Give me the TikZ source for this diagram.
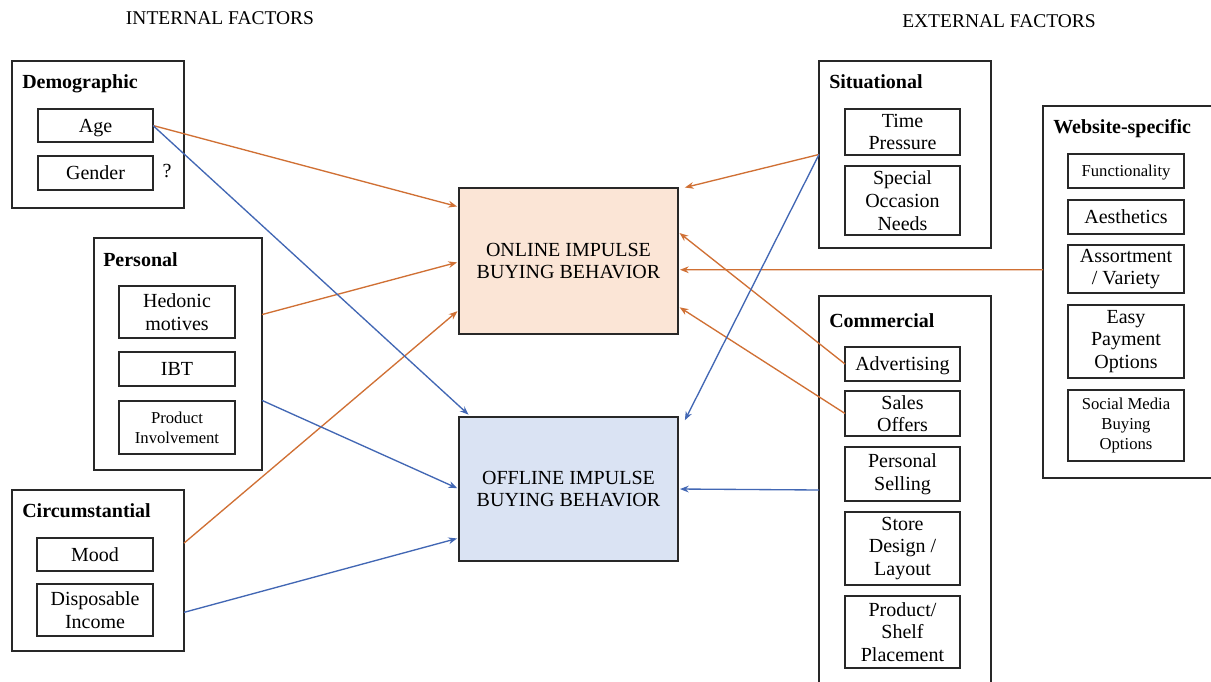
\documentclass[tikz,border=0pt]{standalone}
\usepackage{fontspec}
\setmainfont{Liberation Serif}
\usetikzlibrary{calc,arrows.meta}
\definecolor{onlineorange}{RGB}{208,112,52}
\definecolor{offlineblue}{RGB}{66,103,180}
\definecolor{onlinefill}{RGB}{251,229,214}
\definecolor{offlinefill}{RGB}{218,227,243}
\definecolor{edgegray}{RGB}{40,40,40}
\begin{document}
\begin{tikzpicture}[x=0.75pt,y=-0.75pt,
  % a rectangle given by its corners (x1,y1) and (x2,y2)
  span/.style n args={4}{at={({(#1+#3)/2},{(#2+#4)/2})},
    minimum width={(#3-#1)*0.75pt},minimum height={(#4-#2)*0.75pt}},
  boxed/.style={draw=edgegray,line width=0.9pt,inner sep=0pt,outer sep=0pt,
    rectangle,align=center,font=\fontsize{15}{17}\selectfont},
  groupbox/.style={boxed},
  item/.style={boxed},
  oneline/.style={boxed,text height=10pt,text depth=0pt},
  smallitem/.style={boxed,font=\fontsize{12.5}{15}\selectfont},
  smalloneline/.style={smallitem,text height=8.5pt,text depth=0pt},
  outcome/.style={boxed},
  grouptitle/.style={anchor=base west,inner sep=0pt,font=\fontsize{15}{17}\selectfont\bfseries},
  header/.style={inner sep=0pt,font=\fontsize{14.6}{17}\selectfont},
  link/.style={line width=1pt,-{Stealth[length=6.5pt,width=5pt]},shorten >=1.5pt},
  toonline/.style={link,draw=onlineorange},
  tooffline/.style={link,draw=offlineblue},
]
\useasboundingbox (0,0) rectangle (1211,682);
\fill[white] (0,0) rectangle (1211,682);

% column headings
\node[header] (internal) at (220,18) {INTERNAL FACTORS};
\node[header] (external) at (999,21) {EXTERNAL FACTORS};

% internal factor groups
\node[groupbox,span={12}{61}{184}{208}] (demo) {};
\node[grouptitle] (demotitle) at (22,88) {Demographic};
\node[oneline,span={38}{109}{153}{142}] (age) {Age};
\node[oneline,span={38}{156}{153}{190}] (gender) {Gender};
\node[inner sep=0pt,font=\fontsize{15}{17}\selectfont] (unsure) at (167,171) {?};

\node[groupbox,span={94}{238}{262}{470}] (personal) {};
\node[grouptitle] (personaltitle) at (103,266) {Personal};
\node[item,span={119}{286}{235}{338}] (hedonic) {Hedonic\\motives};
\node[oneline,span={119}{352}{235}{386}] (ibt) {IBT};
\node[smallitem,span={119}{401}{235}{454}] (involvement) {Product\\Involvement};

\node[groupbox,span={12}{490}{184}{651}] (circ) {};
\node[grouptitle] (circtitle) at (22,517) {Circumstantial};
\node[oneline,span={37}{538}{153}{571}] (mood) {Mood};
\node[item,span={37}{584}{153}{636}] (income) {Disposable\\Income};

% outcomes
\node[outcome,span={459}{188}{678}{334},fill=onlinefill] (online) {ONLINE IMPULSE\\BUYING BEHAVIOR};
\node[outcome,span={459}{417}{678}{561},fill=offlinefill] (offline) {OFFLINE IMPULSE\\BUYING BEHAVIOR};

% external factor groups
\node[groupbox,span={819}{61}{991}{248}] (situational) {};
\node[grouptitle] (situationaltitle) at (829,88) {Situational};
\node[item,span={845}{109}{960}{155}] (timepressure) {Time\\Pressure};
\node[item,span={845}{166}{960}{235}] (occasion) {Special\\Occasion\\Needs};

\node[groupbox,span={1043}{106}{1214}{478}] (website) {};
\node[grouptitle] (websitetitle) at (1053,133) {Website-specific};
\node[smalloneline,span={1068}{154}{1184}{188}] (functionality) {Functionality};
\node[oneline,span={1068}{200}{1184}{234}] (aesthetics) {Aesthetics};
\node[item,span={1068}{245}{1184}{293}] (assortment) {Assortment\\/ Variety};
\node[item,span={1068}{305}{1184}{378}] (payment) {Easy\\Payment\\Options};
\node[smallitem,span={1068}{390}{1184}{461}] (socialmedia) {Social Media\\Buying\\Options};

\node[groupbox,span={819}{296}{991}{684}] (commercial) {};
\node[grouptitle] (commercialtitle) at (829,327) {Commercial};
\node[oneline,span={845}{347}{960}{381}] (advertising) {Advertising};
\node[item,span={845}{391}{960}{436}] (salesoffers) {Sales\\Offers};
\node[item,span={845}{447}{960}{501}] (selling) {Personal\\Selling};
\node[item,span={845}{512}{960}{585}] (storedesign) {Store\\Design /\\Layout};
\node[item,span={845}{596}{960}{668}] (placement) {Product/\\Shelf\\Placement};

% influences on online impulse buying
\draw[toonline] (age.east) -- ($(online.north west)!0.13!(online.south west)$);
\draw[toonline] ($(personal.north east)!0.33!(personal.south east)$) -- ($(online.north west)!0.506!(online.south west)$);
\draw[toonline] ($(circ.north east)!0.33!(circ.south east)$) -- ($(online.north west)!0.835!(online.south west)$);
\draw[toonline] (situational.west) -- ($(online.north east)+(5,0)$);
\draw[toonline] ($(website.north west)!0.44!(website.south west)$) -- ($(online.north east)!0.56!(online.south east)$);
\draw[toonline] (advertising.west) -- ($(online.north east)!0.3!(online.south east)$);
\draw[toonline] (salesoffers.west) -- ($(online.north east)!0.81!(online.south east)$);

% influences on offline impulse buying
\draw[tooffline] (age.east) -- ($(offline.north west)+(11,-1)$);
\draw[tooffline] ($(personal.north east)!0.70!(personal.south east)$) -- (offline.west);
\draw[tooffline] ($(circ.north east)!0.76!(circ.south east)$) -- ($(offline.north west)!0.84!(offline.south west)$);
\draw[tooffline] (situational.west) -- ($(offline.north east)+(6,5)$);
\draw[tooffline] (commercial.west) -- (offline.east);
\end{tikzpicture}
\end{document}
